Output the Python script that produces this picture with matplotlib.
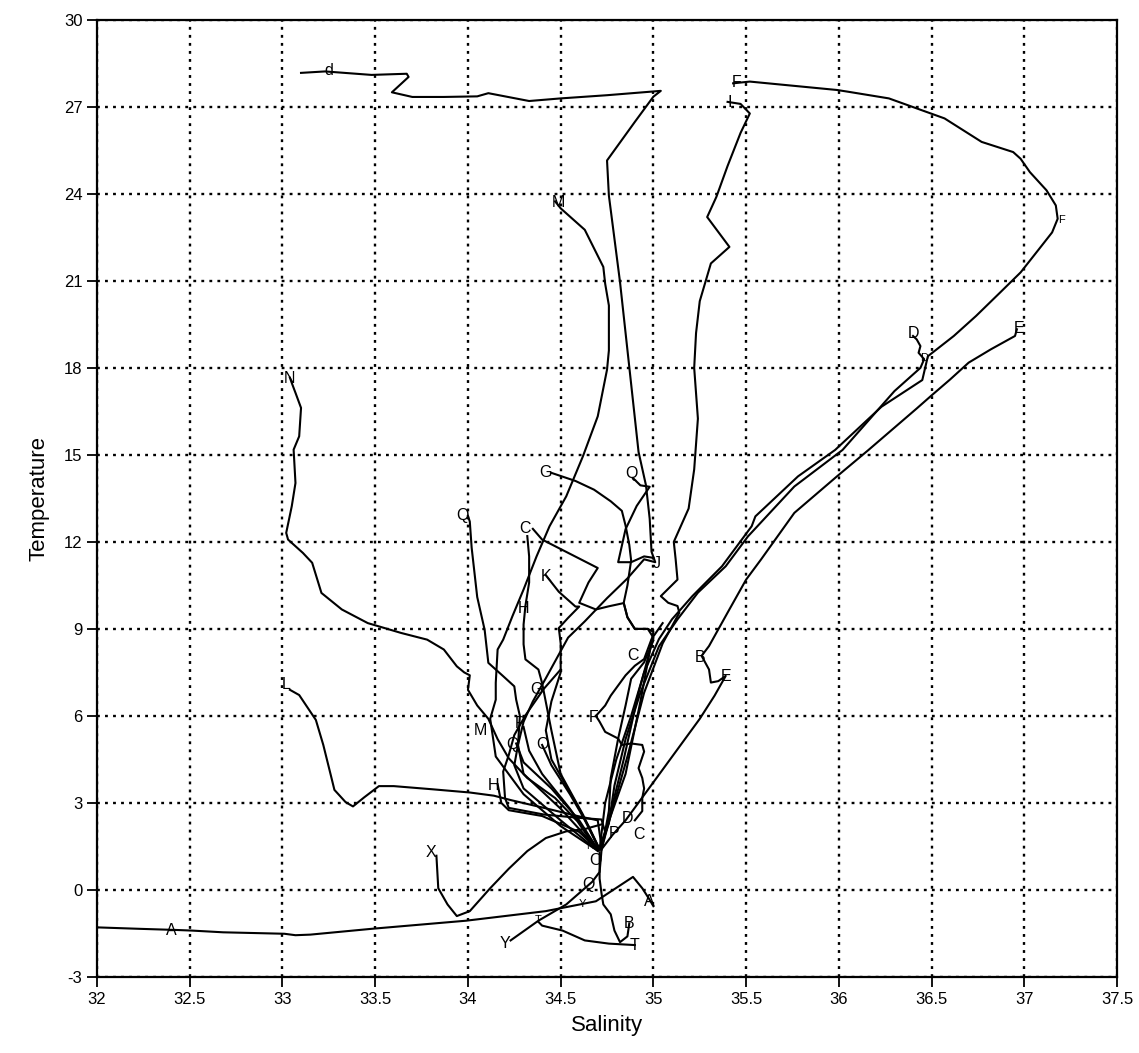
import matplotlib
matplotlib.use('Agg')
import matplotlib.pyplot as plt

# tick values
x_ticks = [32, 32.5, 33, 33.5, 34, 34.5, 35, 35.5, 36, 36.5, 37, 37.5]
x_ticklabels = ['32', '32.5', '33', '33.5', '34', '34.5', '35', '35.5', '36', '36.5', '37', '37.5']
y_ticks = [-3, 0, 3, 6, 9, 12, 15, 18, 21, 24, 27, 30]

# profiles (salinity, temperature)
s_d = [33.10, 33.23, 33.48, 33.67, 33.68, 33.59, 33.70, 33.87, 34.05, 34.11, 34.33, 34.50, 34.75, 35.04, 35.00,
       34.90, 34.75, 34.76, 34.82, 34.87, 34.92, 34.96, 34.98, 34.99, 35.01, 34.95, 34.86, 34.75, 34.63, 34.54,
       34.48, 34.42, 34.35, 34.30, 34.27, 34.25, 34.30, 34.50, 34.70]
t_d = [28.17, 28.22, 28.10, 28.14, 28.03, 27.50, 27.34, 27.34, 27.36, 27.47, 27.20, 27.29, 27.40, 27.55, 27.35,
       26.48, 25.15, 23.94, 20.96, 18.03, 15.10, 13.95, 12.80, 11.66, 11.30, 11.40, 10.74, 10.06, 9.26, 8.70,
       8.00, 7.30, 6.50, 5.80, 5.00, 4.30, 3.50, 2.40, 1.35]

s_F = [35.43, 35.52, 35.99, 36.05, 36.27, 36.57, 36.77, 36.94, 36.98, 37.03, 37.12, 37.17, 37.18, 37.15, 37.08,
       36.98, 36.87, 36.74, 36.62, 36.48, 36.45, 36.23, 35.98, 35.78, 35.55, 35.53, 35.37, 35.21, 35.10, 35.03,
       34.95, 34.88, 34.80, 34.74, 34.71]
t_F = [27.81, 27.87, 27.58, 27.52, 27.29, 26.60, 25.79, 25.44, 25.21, 24.75, 24.12, 23.60, 23.14, 22.67, 22.10,
       21.29, 20.60, 19.79, 19.10, 18.40, 17.58, 16.66, 15.17, 14.26, 12.88, 12.54, 11.16, 10.13, 9.33, 8.65,
       7.50, 6.00, 4.50, 3.00, 1.40]

s_D = [36.40, 36.42, 36.44, 36.43, 36.46, 36.44, 36.30, 36.02, 35.76, 35.51, 35.39, 35.24, 35.13, 35.03, 34.93,
       34.85, 34.79, 34.76, 34.71]
t_D = [19.10, 18.98, 18.75, 18.52, 18.30, 18.00, 17.20, 15.17, 13.91, 12.19, 11.16, 10.25, 9.33, 8.40, 6.80,
       5.20, 3.60, 2.30, 1.40]

s_E = [36.96, 36.95, 36.82, 36.70, 36.60, 36.50, 36.42, 36.16, 35.99, 35.76, 35.58, 35.50, 35.40, 35.30, 35.26,
       35.30, 35.31, 35.35, 35.39, 35.33, 35.25, 35.09, 34.93, 34.85, 34.78, 34.72]
t_E = [19.33, 19.10, 18.64, 18.18, 17.60, 17.05, 16.60, 15.17, 14.26, 13.00, 11.39, 10.70, 9.56, 8.41, 8.07,
       7.60, 7.15, 7.20, 7.38, 6.70, 5.90, 4.50, 3.10, 2.40, 1.90, 1.40]

s_I = [35.40, 35.47, 35.52, 35.47, 35.40, 35.34, 35.29, 35.41, 35.31, 35.25, 35.23, 35.22, 35.24, 35.22, 35.19,
       35.11, 35.12, 35.13, 35.04, 35.08, 35.13, 35.14, 35.05, 34.95, 34.86, 34.78, 34.72]
t_I = [27.17, 27.10, 26.77, 26.10, 24.96, 23.90, 23.20, 22.17, 21.60, 20.30, 19.20, 18.00, 16.25, 14.50, 13.15,
       12.00, 11.40, 10.70, 10.13, 9.90, 9.79, 9.56, 8.50, 6.80, 4.60, 2.80, 1.40]

s_M = [34.47, 34.50, 34.63, 34.73, 34.74, 34.76, 34.76, 34.75, 34.70, 34.62, 34.53, 34.44, 34.37, 34.30, 34.24,
       34.19, 34.16, 34.15, 34.15, 34.12, 34.15, 34.30, 34.50, 34.70]
t_M = [23.74, 23.50, 22.76, 21.48, 20.90, 20.15, 18.60, 17.94, 16.33, 14.95, 13.57, 12.54, 11.50, 10.36, 9.44,
       8.63, 8.29, 7.14, 6.56, 5.90, 4.60, 3.30, 2.20, 1.35]

s_N = [33.04, 33.05, 33.07, 33.10, 33.09, 33.06, 33.07, 33.05, 33.02, 33.03, 33.11, 33.16, 33.21, 33.32, 33.46,
       33.64, 33.78, 33.87, 33.94, 33.98, 34.01, 34.00, 34.05, 34.11, 34.16, 34.22, 34.32, 34.47, 34.59, 34.70]
t_N = [17.66, 17.48, 17.14, 16.62, 15.64, 15.18, 14.03, 13.23, 12.31, 12.08, 11.62, 11.28, 10.24, 9.67, 9.20,
       8.86, 8.63, 8.29, 7.71, 7.50, 7.40, 6.90, 6.36, 5.90, 5.20, 4.54, 3.86, 3.17, 2.37, 1.35]

s_L = [33.04, 33.09, 33.18, 33.22, 33.26, 33.28, 33.34, 33.38, 33.44, 33.52, 33.60, 33.81, 34.01, 34.14, 34.23,
       34.41, 34.59, 34.70, 34.72]
t_L = [6.90, 6.72, 5.86, 5.00, 3.97, 3.45, 3.03, 2.88, 3.19, 3.58, 3.58, 3.47, 3.36, 3.25, 3.10,
       2.83, 2.55, 2.40, 1.50]

s_X = [33.83, 33.84, 33.89, 33.94, 34.01, 34.12, 34.22, 34.32, 34.42, 34.53, 34.63, 34.72]
t_X = [1.18, 0.06, -0.50, -0.90, -0.73, 0.06, 0.73, 1.34, 1.79, 2.02, 2.10, 2.26]

s_A = [32.00, 32.23, 32.43, 32.51, 32.68, 33.01, 33.07, 33.15, 33.48, 33.99, 34.42, 34.69, 34.89, 34.94, 34.98, 35.00]
t_A = [-1.29, -1.34, -1.38, -1.40, -1.46, -1.51, -1.56, -1.54, -1.34, -1.06, -0.73, -0.39, 0.45, 0.06, -0.34, -0.56]

s_Y = [34.23, 34.38, 34.53, 34.67, 34.71, 34.72]
t_Y = [-1.74, -1.06, -0.50, 0.28, 0.62, 1.35]

s_T = [34.90, 34.76, 34.63, 34.51, 34.40, 34.38]
t_T = [-1.90, -1.85, -1.74, -1.40, -1.23, -1.10]

s_B = [34.87, 34.86, 34.82, 34.79, 34.77, 34.73, 34.72, 34.71, 34.71]
t_B = [-1.15, -1.60, -1.80, -1.40, -0.84, -0.50, -0.11, 0.39, 1.30]

s_G = [34.45, 34.58, 34.68, 34.77, 34.83, 34.85, 34.87, 34.88, 34.86, 34.84, 34.86, 34.90, 34.97, 35.00,
       34.92, 34.84, 34.77, 34.72]
t_G = [14.38, 14.10, 13.80, 13.40, 13.07, 12.56, 11.90, 11.36, 10.50, 9.90, 9.40, 9.00, 9.00, 8.70,
       6.80, 4.50, 2.70, 1.40]

s_Q1 = [34.89, 34.93, 34.98, 34.91, 34.85, 34.81, 34.88, 34.95, 35.00]
t_Q1 = [14.20, 13.95, 13.90, 13.24, 12.44, 11.30, 11.30, 11.50, 11.45]

s_Q2 = [34.00, 34.01, 34.02, 34.05, 34.09, 34.11, 34.19, 34.25, 34.26, 34.28, 34.27, 34.30, 34.50, 34.70]
t_Q2 = [12.90, 12.70, 11.80, 10.10, 8.97, 7.83, 7.37, 7.02, 6.56, 6.00, 5.00, 4.00, 2.80, 1.40]

s_C = [34.35, 34.40, 34.70, 34.65, 34.60, 34.69, 34.76, 34.84, 34.86, 34.90, 34.97, 35.00, 34.93, 34.85, 34.75, 34.71]
t_C = [12.45, 12.08, 11.10, 10.60, 9.90, 9.67, 9.78, 9.89, 9.40, 9.00, 9.00, 8.90, 6.50, 4.00, 2.20, 1.40]

s_Cv = [34.32, 34.33, 34.33, 34.31, 34.30, 34.30, 34.31, 34.38, 34.40, 34.45, 34.50, 34.62, 34.71]
t_Cv = [12.20, 11.50, 10.60, 9.80, 9.15, 8.47, 7.95, 7.60, 7.13, 5.50, 4.00, 2.60, 1.40]

s_K = [34.42, 34.49, 34.58, 34.60, 34.54, 34.49, 34.50, 34.50, 34.45, 34.42, 34.45, 34.60, 34.70]
t_K = [10.85, 10.28, 9.77, 9.77, 9.38, 9.03, 8.50, 7.50, 6.50, 5.50, 4.50, 2.80, 1.50]

s_Fl = [35.05, 34.99, 34.95, 34.90, 34.85, 34.77, 34.74, 34.69, 34.71, 34.74, 34.81, 34.83, 34.88, 34.94,
        34.95, 34.92, 34.94, 34.95, 34.94, 34.94, 34.90]
t_Fl = [9.20, 8.65, 7.96, 7.73, 7.40, 6.70, 6.36, 6.00, 5.80, 5.45, 5.22, 5.00, 5.05, 5.00,
        4.77, 4.20, 3.86, 3.50, 3.17, 2.72, 2.40]

s_Cl = [35.00, 34.95, 34.88, 34.85, 34.81, 34.77, 34.76, 34.74, 34.71]
t_Cl = [8.60, 7.85, 7.28, 6.36, 5.22, 3.86, 2.72, 2.03, 1.40]

s_G6 = [34.50, 34.41, 34.31, 34.25, 34.22, 34.19, 34.20, 34.22, 34.41, 34.59, 34.72, 34.74]
t_G6 = [7.60, 6.94, 6.02, 5.34, 4.65, 4.08, 3.17, 2.83, 2.60, 2.49, 2.43, 2.00]

s_P = [34.30, 34.33, 34.40, 34.55, 34.70]
t_P = [5.62, 4.80, 4.00, 2.80, 1.40]
s_Qd = [34.26, 34.30, 34.45, 34.60, 34.70]
t_Qd = [5.05, 4.40, 3.50, 2.40, 1.40]
s_O = [34.40, 34.45, 34.55, 34.65, 34.71]
t_O = [5.00, 4.30, 3.30, 2.20, 1.40]
s_H = [34.16, 34.18, 34.22, 34.40, 34.60, 34.70]
t_H = [3.65, 3.00, 2.75, 2.55, 2.00, 1.40]

# station letters
lab_txt = ['d', 'F', 'I', 'M', 'F', 'D', 'D', 'E', 'N', 'G', 'Q', 'Q', 'C', 'K', 'J', 'H', 'L', 'B', 'E', 'C',
           'G', 'F', 'M', 'P', 'Q', 'O', 'H', 'D', 'P', 'C', 'N', 'O', 'X', 'Q', 'Y', 'A', 'A', 'B', 'T', 'Y', 'T']
lab_S = [33.25, 35.45, 35.41, 34.49, 37.20, 36.40, 36.46, 36.97, 33.04, 34.42, 34.88, 33.97, 34.31, 34.42, 35.02,
         34.30, 33.02, 35.25, 35.39, 34.89, 34.37, 34.68, 34.07, 34.28, 34.24, 34.40, 34.14, 34.86, 34.79, 34.92,
         34.66, 34.69, 33.80, 34.65, 34.62, 32.40, 34.98, 34.87, 34.90, 34.20, 34.38]
lab_T = [28.25, 27.85, 27.15, 23.70, 23.10, 19.20, 18.35, 19.35, 17.65, 14.40, 14.35, 12.90, 12.45, 10.80, 11.25,
         9.70, 7.10, 8.00, 7.35, 8.10, 6.90, 5.95, 5.50, 5.75, 5.00, 5.00, 3.60, 2.45, 1.95, 1.90,
         1.50, 1.00, 1.30, 0.20, -0.50, -1.40, -0.40, -1.15, -1.90, -1.85, -1.05]
small_labels = {4, 6, 30, 34, 40}

profiles = [(s_d, t_d), (s_F, t_F), (s_D, t_D), (s_E, t_E), (s_I, t_I), (s_M, t_M), (s_N, t_N), (s_L, t_L),
            (s_X, t_X), (s_A, t_A), (s_Y, t_Y), (s_T, t_T), (s_B, t_B), (s_G, t_G), (s_Q1, t_Q1), (s_Q2, t_Q2),
            (s_C, t_C), (s_Cv, t_Cv), (s_K, t_K), (s_Fl, t_Fl), (s_Cl, t_Cl), (s_G6, t_G6), (s_P, t_P),
            (s_Qd, t_Qd), (s_O, t_O), (s_H, t_H)]

plt.rcParams['font.family'] = ['Liberation Sans', 'DejaVu Sans']
plt.rcParams['axes.unicode_minus'] = False

fig = plt.figure(figsize=(11.39, 10.53), dpi=100)
ax = fig.add_axes([0.0852, 0.0722, 0.8955, 0.909])

for s, t in profiles:
    ax.plot(s, t, color='black', linewidth=1.5, solid_joinstyle='round', zorder=3)

for i, (txt, s, t) in enumerate(zip(lab_txt, lab_S, lab_T)):
    ax.text(s, t, txt, ha='center', va='center', fontsize=8 if i in small_labels else 11.5,
            color='black', zorder=4)

ax.set_xlim(32, 37.5)
ax.set_ylim(-3, 30)
ax.set_xticks(x_ticks)
ax.set_xticklabels(x_ticklabels)
ax.set_yticks(y_ticks)
ax.tick_params(direction='out', length=7, width=1.3, labelsize=12, colors='black')
ax.grid(True, color='black', linestyle=(0, (1.2, 2.2)), linewidth=1.7, zorder=1)
ax.set_axisbelow(True)
for sp in ax.spines.values():
    sp.set_linewidth(1.6)

ax.set_xlabel('Salinity', fontsize=16, labelpad=6)
ax.set_ylabel('Temperature', fontsize=16, labelpad=10)

fig.savefig('out.png', dpi=100)
